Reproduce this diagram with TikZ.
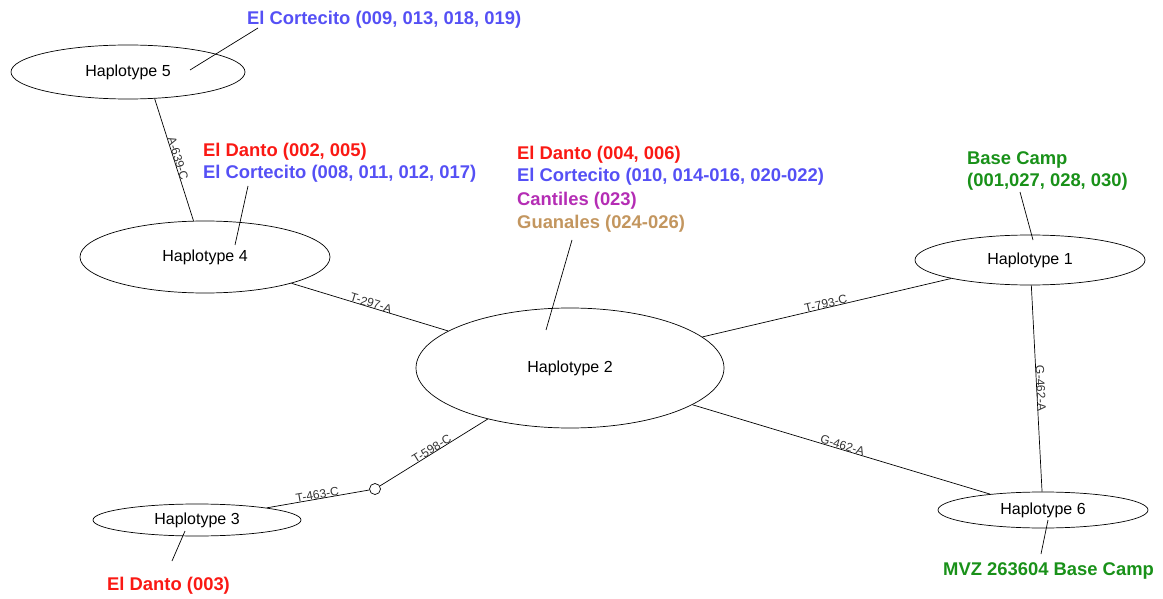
\documentclass[tikz,border=0pt]{standalone}
\usepackage{fontspec}
\setmainfont{Liberation Sans}
\usetikzlibrary{shapes}
\usetikzlibrary{positioning}
\definecolor{dantoRed}{RGB}{250,25,20}
\definecolor{cortecitoBlue}{RGB}{85,80,245}
\definecolor{cantilesPurple}{RGB}{180,45,180}
\definecolor{guanalesTan}{RGB}{195,150,95}
\definecolor{campGreen}{RGB}{25,145,25}

\begin{document}
\begin{tikzpicture}[x=1pt,y=-1pt]
			\tikzstyle{hap}=[ellipse, draw, inner sep=0pt, line width=0.7pt, font=\fontsize{16}{19}\selectfont]
			\tikzstyle{mut}=[sloped, anchor=base, inner sep=1pt, font=\fontsize{12}{14}\selectfont, text=black!80]
			\tikzstyle{site}=[anchor=base west, inner sep=0pt, font=\bfseries\fontsize{18.4}{22}\selectfont]
			\tikzstyle{pin}=[draw, line width=0.7pt]
			\useasboundingbox (0,0) rectangle (1163,599);

			% haplotypes
			\node[hap, minimum width=234pt, minimum height=54pt] at (128, 72) (hapFive) {Haplotype 5};
			\node[hap, minimum width=250pt, minimum height=72pt] at (205, 257) (hapFour) {Haplotype 4};
			\node[hap, minimum width=308pt, minimum height=120pt] at (570, 368) (hapTwo) {Haplotype 2};
			\node[hap, minimum width=230pt, minimum height=50pt] at (1030, 260) (hapOne) {Haplotype 1};
			\node[hap, minimum width=208pt, minimum height=32pt] at (197, 520) (hapThree) {Haplotype 3};
			\node[hap, minimum width=210pt, minimum height=36pt] at (1043, 510) (hapSix) {Haplotype 6};
			\node[circle, draw, line width=0.7pt, minimum size=11pt, inner sep=0pt] at (375, 489) (mutPoint) {};

			% mutations
			\path[pin] (hapFive.-45) -- node[mut] {A-639-C} (hapFour);
			\path[pin] (hapFour) -- node[mut] {T-297-A} (hapTwo);
			\path[pin] (hapTwo) -- node[mut] {T-793-C} (hapOne);
			\path[pin] (hapTwo) -- node[mut] {G-462-A} (hapSix);
			\path[pin] (hapOne) -- node[mut] {G-462-A} (hapSix);
			\path[pin] (mutPoint) -- node[mut] {T-598-C} (hapTwo);
			\path[pin] (hapThree) -- node[mut] {T-463-C} (mutPoint);

			% samples
			\node[site, text=cortecitoBlue] at (247, 25) (siteFive) {El Cortecito (009, 013, 018, 019)};
			\coordinate (hapFivePin) at (190, 70);
			\coordinate (siteFivePin) at (258, 28);
			\path[pin] (hapFivePin) -- (siteFivePin);

			\node[site, text=dantoRed] at (203, 157) (siteFourA) {El Danto (002, 005)};
			\node[site, text=cortecitoBlue] at (203, 179) (siteFourB) {El Cortecito (008, 011, 012, 017)};
			\coordinate (hapFourPin) at (235, 245);
			\coordinate (siteFourPin) at (248, 186);
			\path[pin] (hapFourPin) -- (siteFourPin);

			\node[site, text=dantoRed] at (517, 160) (siteTwoA) {El Danto (004, 006)};
			\node[site, text=cortecitoBlue] at (517, 182) (siteTwoB) {El Cortecito (010, 014-016, 020-022)};
			\node[site, text=cantilesPurple] at (517, 205) (siteTwoC) {Cantiles (023)};
			\node[site, text=guanalesTan] at (517, 229) (siteTwoD) {Guanales (024-026)};
			\coordinate (hapTwoPin) at (546, 330);
			\coordinate (siteTwoPin) at (572, 240);
			\path[pin] (hapTwoPin) -- (siteTwoPin);

			\node[site, text=campGreen] at (967, 165) (siteOneA) {Base Camp};
			\node[site, text=campGreen] at (967, 187) (siteOneB) {(001,027, 028, 030)};
			\coordinate (hapOnePin) at (1033, 240);
			\coordinate (siteOnePin) at (1020, 192);
			\path[pin] (hapOnePin) -- (siteOnePin);

			\node[site, text=dantoRed] at (107, 590) (siteThree) {El Danto (003)};
			\coordinate (hapThreePin) at (185, 531);
			\coordinate (siteThreePin) at (172, 561);
			\path[pin] (hapThreePin) -- (siteThreePin);

			\node[site, text=campGreen] at (943, 575) (siteSix) {MVZ 263604 Base Camp};
			\coordinate (hapSixPin) at (1048, 520);
			\coordinate (siteSixPin) at (1041, 554);
			\path[pin] (hapSixPin) -- (siteSixPin);
		\end{tikzpicture}
\end{document}
